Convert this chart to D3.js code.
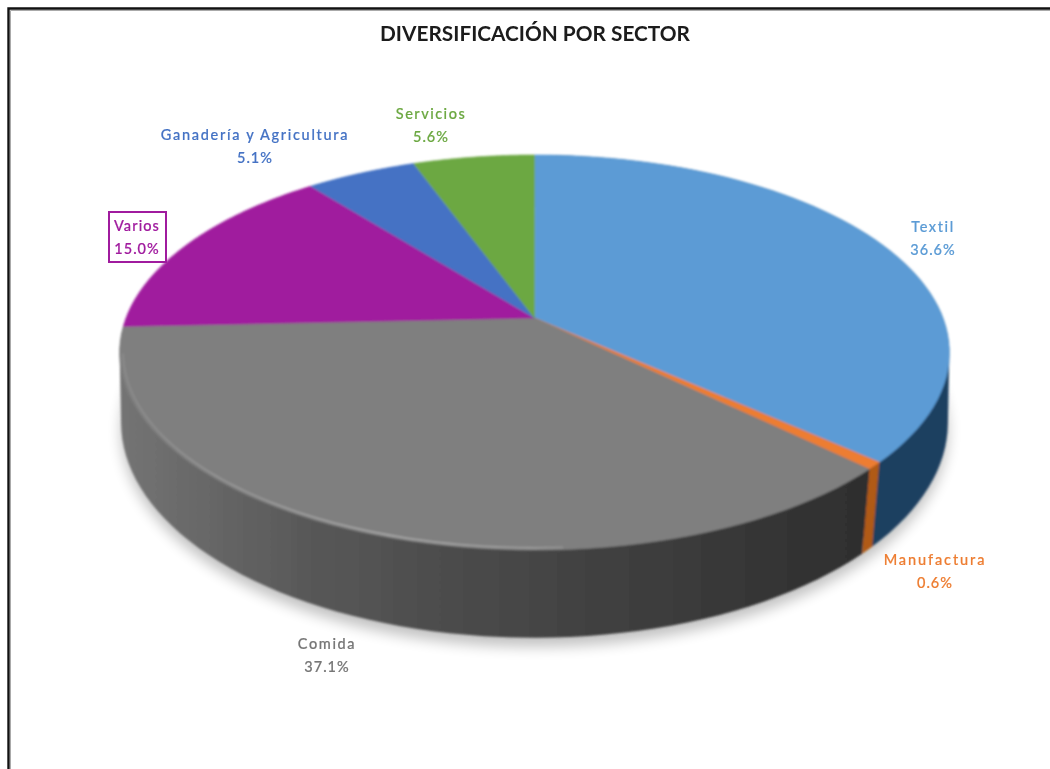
<!DOCTYPE html>
<html><head><meta charset="utf-8">
<script src="https://cdn.jsdelivr.net/npm/d3@7/dist/d3.min.js"></script>
<style>html,body{margin:0;padding:0;background:#fff;overflow:hidden}svg{display:block}</style>
</head><body>
<svg id="c" width="1050" height="769"></svg>
<script>
// ---- data ----
const chartTitle = "DIVERSIFICACIÓN POR SECTOR";
const categories = ["Textil","Manufactura","Comida","Varios","Ganadería y Agricultura","Servicios"];
const shareValues = [36.6,0.6,37.1,15.0,5.1,5.6];
// ---- styles ----
const topColors  = ["#5b9bd5","#ed7d31","#7f7f7f","#a01b9e","#4472c4","#6ca842"];
const sideColors = ["#1f3f60","#b05a12","url(#greySide)","#5a0f58","#27437a","#41682a"];
const textColors = ["#5b9bd5","#ed7d31","#767676","#a01b9e","#4472c4","#6ca842"];
// label centre (x, first line y, letter spacing)
const labelLayout = [[933,227,1.6],[935,560,1.9],[327,644,1.6],[137,226,1.1],[255,135,1.7],[431,114,1.5]];

// ---- perspective projection of a disc ----
function rim(level){
  return function(a,r=1){
    const u=Math.sin(a)*r, v=Math.cos(a)*r, w=1+level.k*v;
    return [level.x0+level.b*u/w, level.y0-level.a*v/w];
  };
}
const topRim = rim({k:0.1747,a:191.5,b:408.5,y0:318,x0:534.5});
const botRim = rim({k:0.145,a:211,b:409,y0:391,x0:534.5});

const pie = d3.pie().sort(null).value(d=>d)(shareValues);
const svg = d3.select("#c");
const defs = svg.append("defs");
const g1 = defs.append("linearGradient").attr("id","greySide").attr("gradientUnits","userSpaceOnUse")
  .attr("x1",120).attr("x2",870).attr("y1",0).attr("y2",0);
[[0,"#747474"],[0.25,"#585858"],[0.5,"#484848"],[0.75,"#3b3b3b"],[1,"#2e2e2e"]]
  .forEach(s=>g1.append("stop").attr("offset",s[0]).attr("stop-color",s[1]));
const g2 = defs.append("linearGradient").attr("id","bevel").attr("gradientUnits","userSpaceOnUse")
  .attr("x1",130).attr("x2",640).attr("y1",0).attr("y2",0);
[[0,"#8c8c8c"],[0.5,"#a6a6a6"],[0.8,"#9a9a9a"],[1,"#7f7f7f"]]
  .forEach(s=>g2.append("stop").attr("offset",s[0]).attr("stop-color",s[1]));
defs.append("filter").attr("id","soft").attr("x","-5%").attr("y","-5%").attr("width","110%").attr("height","110%")
  .append("feGaussianBlur").attr("stdDeviation",0.8);
defs.append("filter").attr("id","shadow").attr("x","-10%").attr("y","-10%").attr("width","120%").attr("height","120%")
  .append("feGaussianBlur").attr("stdDeviation",7);
defs.append("filter").attr("id","textsoft").attr("x","-5%").attr("y","-10%").attr("width","110%").attr("height","120%")
  .append("feGaussianBlur").attr("stdDeviation",0.65);

svg.append("rect").attr("width",1050).attr("height",769).attr("fill","#fff");
// frame: top and left edges of the chart box
svg.append("path").attr("d","M8.5 769V8.5H1050").attr("fill","none").attr("stroke","#111").attr("stroke-width",2.4);
svg.append("path").attr("d","M10.5 769V10.5H1050").attr("fill","none").attr("stroke","#aaa").attr("stroke-width",1);

const line = d3.line();
const steps = a => d3.range(0,65).map(i=>a.startAngle+(a.endAngle-a.startAngle)*i/64);

// soft shadow below the disc
const fullTurn = d3.range(0,181).map(i=>i/180*2*Math.PI);
svg.append("path").attr("d",line(fullTurn.map(a=>{const p=botRim(a);return [p[0],p[1]+9];}))+"Z")
  .attr("fill","#000").attr("opacity",0.24).attr("filter","url(#shadow)");

const disc = svg.append("g").attr("filter","url(#soft)");
// side walls of the slices that face the viewer, then top faces
pie.forEach((a,i)=>{
  const pts = steps(a).flatMap(t=>[topRim(t),botRim(t)]);
  if(a.endAngle>Math.PI*0.4 && a.startAngle<Math.PI*1.45)
    disc.append("path").attr("d",line(d3.polygonHull(pts))+"Z").attr("fill",sideColors[i]);
});
pie.forEach((a,i)=>{
  const pts = [topRim(0,0),...steps(a).map(t=>topRim(t))];
  disc.append("path").attr("d",line(pts)+"Z").attr("fill",topColors[i])
    .attr("stroke",topColors[i]).attr("stroke-width",0.6);
});
// lighter bevel along the food slice rim
const food = pie[categories.indexOf("Comida")];
const bevelArc = d3.range(0,81).map(i=>food.startAngle+(food.endAngle-food.startAngle)*(0.32+0.62*i/80));
disc.append("path").attr("d",line(bevelArc.map(t=>topRim(t,0.992))))
  .attr("fill","none").attr("stroke","url(#bevel)").attr("stroke-width",1.8);

// labels
const labelFont = "Lato, Carlito, sans-serif";
svg.append("rect").attr("x",109).attr("y",212).attr("width",57).attr("height",50)
  .attr("fill","#fff").attr("stroke",textColors[3]).attr("stroke-width",2);
const labFront = svg.append("g").attr("filter","url(#textsoft)").attr("text-anchor","middle")
  .attr("font-family",labelFont).attr("font-size",14.5).attr("font-weight",500);
categories.forEach((c,i)=>{
  const l=labelLayout[i];
  const t=labFront.append("text").attr("fill",textColors[i]).attr("stroke",textColors[i]).attr("stroke-width",0.2);
  t.append("tspan").attr("x",l[0]).attr("y",l[1]+5).attr("letter-spacing",l[2]).text(c);
  t.append("tspan").attr("x",l[0]).attr("y",l[1]+28).attr("letter-spacing",1).text(d3.format(".1f")(shareValues[i])+"%");
});
svg.append("text").attr("x",535).attr("y",41).attr("text-anchor","middle")
  .attr("font-family",labelFont).attr("font-size",20.8).attr("font-weight",700).attr("fill","#1a1a1a")
  .attr("filter","url(#textsoft)").text(chartTitle);
</script>
</body></html>
